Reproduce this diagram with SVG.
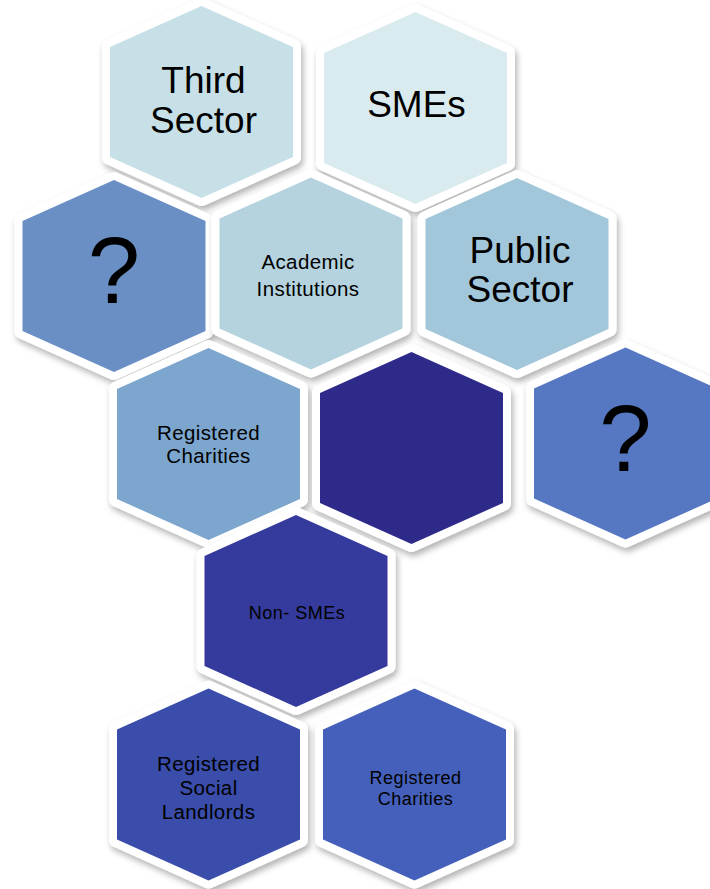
<svg xmlns="http://www.w3.org/2000/svg" xmlns:xlink="http://www.w3.org/1999/xlink" width="710" height="889" viewBox="0 0 710 889">
<style>
.hex{stroke:#FFFFFF;stroke-width:16;stroke-linejoin:round;paint-order:stroke;filter:url(#sh)}
text{font-family:"Liberation Sans",Arial,sans-serif;fill:#000;text-anchor:middle}
.big{font-size:37px}
.q{font-size:94px}
.mid{font-size:20.5px;letter-spacing:0.4px}
.sm{font-size:18px;letter-spacing:0.5px}
</style>
<defs>
<filter id="sh" x="-20%" y="-20%" width="140%" height="150%">
<feDropShadow dx="2" dy="4" stdDeviation="3" flood-color="#000" flood-opacity="0.3"/>
</filter>
<polygon id="hx" points="0,-96 91.5,-55 91.5,55 0,96 -91.5,55 -91.5,-55"/>
</defs>
<rect width="710" height="889" fill="#FFFFFF"/>
<g id="third-sector" transform="translate(201.5,102)">
<use xlink:href="#hx" class="hex" fill="#C7E0E7"/>
<text class="big" x="2" y="-9">Third</text>
<text class="big" x="2" y="31">Sector</text>
</g>
<g id="smes" transform="translate(415.5,108)">
<use xlink:href="#hx" class="hex" fill="#D9EBEE"/>
<text class="big" x="1" y="9">SMEs</text>
</g>
<g id="unknown-left" transform="translate(114,276)">
<use xlink:href="#hx" class="hex" fill="#6A8FC5"/>
<text class="q" x="0" y="27">?</text>
</g>
<g id="academic" transform="translate(311,273.5)">
<use xlink:href="#hx" class="hex" fill="#B5D3DE"/>
<text class="mid" x="-3" y="-5">Academic</text>
<text class="mid" x="-3" y="22">Institutions</text>
</g>
<g id="public-sector" transform="translate(517,274)">
<use xlink:href="#hx" class="hex" fill="#A2C6DA"/>
<text class="big" x="3" y="-11">Public</text>
<text class="big" x="3" y="28">Sector</text>
</g>
<g id="registered-charities-1" transform="translate(208.5,444)">
<use xlink:href="#hx" class="hex" fill="#7BA6CE"/>
<text class="mid" x="0" y="-4">Registered</text>
<text class="mid" x="0" y="19">Charities</text>
</g>
<g id="dark-center" transform="translate(411.5,448)">
<use xlink:href="#hx" class="hex" fill="#2E2A89"/>
</g>
<g id="unknown-right" transform="translate(625.5,443.5)">
<use xlink:href="#hx" class="hex" fill="#5677C1"/>
<text class="q" x="0" y="27">?</text>
</g>
<g id="non-smes" transform="translate(296,611)">
<use xlink:href="#hx" class="hex" fill="#363B9C"/>
<text class="sm" x="1" y="8">Non- SMEs</text>
</g>
<g id="registered-social-landlords" transform="translate(208.5,784.5)">
<use xlink:href="#hx" class="hex" fill="#3A4EAA"/>
<text class="mid" x="0" y="-14">Registered</text>
<text class="mid" x="0" y="10">Social</text>
<text class="mid" x="0" y="34">Landlords</text>
</g>
<g id="registered-charities-2" transform="translate(414.5,784.5)">
<use xlink:href="#hx" class="hex" fill="#4561BA"/>
<text class="sm" x="1" y="-1">Registered</text>
<text class="sm" x="1" y="20">Charities</text>
</g>
<g id="connectors"></g>
</svg>
